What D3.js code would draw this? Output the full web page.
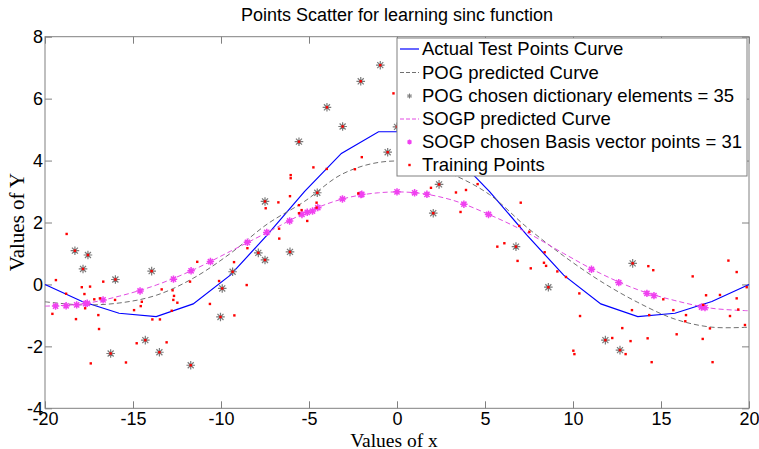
<!DOCTYPE html>
<html><head><meta charset="utf-8">
<script src="https://cdn.jsdelivr.net/npm/d3@7"></script>
<style>
html,body{margin:0;padding:0;background:#fff;}
svg{display:block;}
text{font-family:"Liberation Sans",Arial,sans-serif;}
</style></head>
<body>
<svg id="chart" width="759" height="449"></svg>
<script>
// ---- data ----
const titleText = "Points Scatter for learning sinc function";
const xLabel = "Values of x";
const yLabel = "Values of Y";
const xTicks = [-20,-15,-10,-5,0,5,10,15,20];
const yTicks = [-4,-2,0,2,4,6,8];
const legendLabels = ["Actual Test Points Curve","POG predicted Curve","POG chosen dictionary elements = 35","SOGP predicted Curve","SOGP chosen Basis vector points = 31","Training Points"];

const gridX = [-20,-17.89,-15.79,-13.68,-11.58,-9.47,-7.37,-5.26,-3.16,-1.05,1.05,3.16,5.26,7.37,9.47,11.58,13.68,15.79,17.89,20];
const actualY = [0,-0.55,-0.93,-1.04,-0.63,0.30,1.6,3.0,4.23,4.93,4.93,4.23,3.0,1.6,0.3,-0.63,-1.04,-0.93,-0.55,0];
const pogY = [-0.56,-0.66,-0.6,-0.35,0.2,1.0,1.95,2.68,3.55,3.94,3.94,3.55,2.9,1.85,0.92,0.1,-0.58,-1.12,-1.38,-1.38];
const sogpY = [-0.70,-0.63,-0.38,-0.02,0.47,1.07,1.68,2.3,2.75,2.96,2.96,2.72,2.25,1.68,1.0,0.35,-0.17,-0.52,-0.77,-0.85];

const pogChosenX = [-18.3,-17.56,-17.84,-16.0,-13.94,-14.3,-16.27,-13.5,-11.72,-10.03,-9.93,-9.34,-7.88,-7.5,-7.5,-6.08,-4.53,-5.57,-3.98,-3.09,-2.06,-0.95,-0.53,0,2.39,2.06,6.76,8.6,13.39,11.84,12.67,1.3,2.9,4.2,1.7];
const pogChosenY = [1.09,0.95,0.50,0.16,0.43,-1.80,-2.23,-2.19,-2.61,-1.05,-0.13,0.41,1.02,0.79,2.68,1.05,2.96,4.61,5.72,5.10,6.56,7.08,4.27,5.09,3.23,2.30,1.22,-0.09,0.68,-1.80,-2.12,6.3,4.6,5.6,7.4];

const sogpChosenX = [-19.4,-18.8,-18.2,-17.7,-17.6,-16.7,-14.6,-12.7,-11.7,-10.6,-8.5,-7.4,-6.1,-5.4,-5.1,-4.8,-4.5,-3.1,-2.05,-2.0,0,1.0,1.7,3.8,5.2,11.05,12.6,14.2,14.6,17.3,17.5];
const sogpChosenY = [-0.70,-0.69,-0.66,-0.62,-0.61,-0.50,-0.21,0.17,0.44,0.74,1.36,1.68,2.05,2.26,2.33,2.37,2.48,2.76,2.90,2.91,2.99,2.96,2.91,2.59,2.26,0.49,0.06,-0.29,-0.36,-0.73,-0.75];

const trainX = [-19.58,-19.38,-18.8,-18.77,-18.3,-18.24,-17.91,-17.84,-17.76,-17.72,-17.56,-17.44,-17.4,-17.2,-16.97,-16.93,-16.88,-16.69,-16.27,-16.02,-16.0,-15.4,-14.94,-14.79,-14.56,-14.5,-14.3,-13.94,-13.9,-13.5,-13.47,-13.37,-13.09,-12.8,-12.75,-12.67,-12.71,-12.48,-11.76,-11.72,-11.35,-10.63,-10.11,-10.03,-9.93,-9.34,-9.26,-9.24,-8.54,-8.5,-7.88,-7.5,-7.5,-7.46,-6.74,-6.7,-6.69,-6.08,-6.08,-6.04,-6.04,-5.57,-5.57,-5.57,-5.42,-5.1,-4.75,-4.57,-4.53,-4.57,-3.99,-3.98,-3.09,-2.39,-2.2,-2.06,-2.0,-0.95,-0.53,-0.2,0,1.93,2.06,2.39,3.35,3.61,3.92,4.58,5.7,6.1,6.76,6.85,6.95,7.03,7.52,7.6,8.35,8.39,8.47,8.6,9.11,9.6,10.02,10.08,10.36,10.4,11.84,12.23,12.67,12.8,12.99,13.27,13.35,13.39,14.24,14.28,14.33,14.47,14.56,15.13,15.7,15.89,16.38,16.42,16.8,17.37,17.4,17.56,17.78,17.93,18.35,18.83,18.92,19.3,19.3,19.39,19.77,19.87,1.3,2.9,4.2,1.7];
const trainY = [-0.95,0.14,-0.3,1.63,1.09,-1.12,-0.09,0.50,-0.31,-0.77,0.95,-0.07,-2.55,-0.48,-0.99,-1.44,-0.45,0.09,-2.23,-0.5,0.16,-2.52,-0.83,-1.9,-0.7,-0.56,-1.80,0.43,-1.13,-2.19,-1.13,-0.16,-1.87,-0.85,-0.19,-0.37,-0.5,-0.59,0.09,-2.61,0.73,-0.63,0.11,-1.05,-0.13,0.41,0.72,-1.0,-0.02,1.17,1.02,0.79,2.68,2.46,2.65,1.8,1.48,1.05,2.85,3.53,3.43,4.61,2.56,2.3,2.4,2.05,3.78,2.64,2.96,2.48,3.73,5.72,5.10,3.72,2.94,6.56,4.11,7.08,4.27,6.17,5.09,3.12,2.30,3.23,2.97,2.34,3.05,3.24,1.22,1.33,1.22,0.76,1.89,2.64,1.7,0.52,0.7,1.04,0.6,-0.09,0.42,0.24,-2.14,-2.25,-0.29,-1.02,-1.80,-1.73,-2.12,-1.41,-2.25,-1.83,-0.83,0.68,-1.74,0.59,-0.99,-2.51,0.46,-0.48,-0.83,-1.61,-1.19,-0.99,0.26,-1.76,-0.66,-0.35,-1.42,-2.51,-0.34,0.77,-1.02,0.4,-0.45,-0.81,-1.31,-0.09,6.3,4.6,5.6,7.4];

// ---- chart ----
const svg = d3.select("#chart");
const L = 45, R = 749, T = 36.7, B = 408.3;
const x = d3.scaleLinear().domain([-20,20]).range([L,R]);
const y = d3.scaleLinear().domain([-4,8]).range([B,T]);
const axisCol = "#808080";

// axes box
svg.append("rect").attr("x",L).attr("y",T).attr("width",R-L).attr("height",B-T)
  .attr("fill","none").attr("stroke",axisCol).attr("stroke-width",1);

function styleAxis(g){
  g.select(".domain").remove();
  g.selectAll(".tick line").attr("stroke",axisCol);
  g.selectAll(".tick text").attr("fill","#000").style("font-size","18px")
   .style("font-family","'Liberation Sans',Arial,sans-serif");
}
svg.append("g").attr("transform",`translate(0,${B})`)
  .call(d3.axisBottom(x).tickValues(xTicks).tickSize(-7).tickPadding(4).tickFormat(d3.format("d")))
  .call(styleAxis);
svg.append("g").attr("transform",`translate(0,${T})`)
  .call(d3.axisTop(x).tickValues(xTicks).tickSize(-7).tickFormat(""))
  .call(styleAxis);
svg.append("g").attr("transform",`translate(${L},0)`)
  .call(d3.axisLeft(y).tickValues(yTicks).tickSize(-7).tickPadding(2).tickFormat(d3.format("d")))
  .call(styleAxis);
svg.append("g").attr("transform",`translate(${R},0)`)
  .call(d3.axisRight(y).tickValues(yTicks).tickSize(-7).tickFormat(""))
  .call(styleAxis);
svg.selectAll(".tick text").text(function(){return this.textContent.replace("\u2212","-");});

// title & labels
svg.append("text").attr("x",(L+R)/2).attr("y",21).attr("text-anchor","middle")
  .style("font-size","18px").text(titleText);
svg.append("text").attr("x",(L+R)/2 - 3).attr("y",446.5).attr("text-anchor","middle")
  .style("font-family","'Liberation Serif','Times New Roman',serif").style("font-size","19.5px").text(xLabel);
svg.append("text").attr("transform","translate(24,222) rotate(-90)").attr("text-anchor","middle")
  .style("font-family","'Liberation Serif','Times New Roman',serif").style("font-size","21px").text(yLabel);

const plot = svg.append("g");
const line = d3.line().x(d=>x(d[0])).y(d=>y(d[1]));
const smooth = d3.line().x(d=>x(d[0])).y(d=>y(d[1])).curve(d3.curveCatmullRom);

plot.append("path").datum(gridX.map((v,i)=>[v,actualY[i]])).attr("d",line)
  .attr("fill","none").attr("stroke","#0000ff").attr("stroke-width",1.2);
plot.append("path").datum(gridX.map((v,i)=>[v,pogY[i]])).attr("d",smooth)
  .attr("fill","none").attr("stroke","#707070").attr("stroke-width",1).attr("stroke-dasharray","5,3");

function star(g, cx, cy, r, col, w){
  const d = `M${cx-r},${cy}L${cx+r},${cy}M${cx},${cy-r}L${cx},${cy+r}` +
    `M${cx-r*0.7},${cy-r*0.7}L${cx+r*0.7},${cy+r*0.7}M${cx-r*0.7},${cy+r*0.7}L${cx+r*0.7},${cy-r*0.7}`;
  g.append("path").attr("d",d).attr("stroke",col).attr("stroke-width",w).attr("fill","none");
}
pogChosenX.forEach((v,i)=>star(plot, x(v), y(pogChosenY[i]), 4.3, "#7a7a7a", 1.2));

plot.append("path").datum(gridX.map((v,i)=>[v,sogpY[i]])).attr("d",smooth)
  .attr("fill","none").attr("stroke","#e24be2").attr("stroke-width",1).attr("stroke-dasharray","5,3");
sogpChosenX.forEach((v,i)=>star(plot, x(v), y(sogpChosenY[i]), 3.7, "#f040f0", 1.5));

plot.selectAll("rect.tp").data(trainX.map((v,i)=>[v,trainY[i]])).enter().append("rect")
  .attr("class","tp").attr("x",d=>x(d[0])-1.2).attr("y",d=>y(d[1])-1.2)
  .attr("width",2.4).attr("height",2.4).attr("fill","#ff0000");

// legend
const lg = svg.append("g");
lg.append("rect").attr("x",397).attr("y",38).attr("width",350).attr("height",138)
  .attr("fill","#fff").attr("stroke",axisCol).attr("stroke-width",1);
const rowY = [49,72.5,96,119,142,165];
const lx0 = 400, lx1 = 419, tx = 422;
legendLabels.forEach((t,i)=>{
  const yy = rowY[i];
  if(i===0) lg.append("line").attr("x1",lx0).attr("x2",lx1).attr("y1",yy).attr("y2",yy).attr("stroke","#0000ff").attr("stroke-width",1.2);
  if(i===1) lg.append("line").attr("x1",lx0).attr("x2",lx1).attr("y1",yy).attr("y2",yy).attr("stroke","#707070").attr("stroke-dasharray","4,2");
  if(i===2) star(lg,(lx0+lx1)/2,yy,2.5,"#7a7a7a",1);
  if(i===3) lg.append("line").attr("x1",lx0).attr("x2",lx1).attr("y1",yy).attr("y2",yy).attr("stroke","#e24be2").attr("stroke-dasharray","4,2");
  if(i===4) star(lg,(lx0+lx1)/2,yy,2.5,"#f040f0",1.2);
  if(i===5) lg.append("rect").attr("x",(lx0+lx1)/2-1.2).attr("y",yy-1.2).attr("width",2.4).attr("height",2.4).attr("fill","#ff0000");
  lg.append("text").attr("x",tx).attr("y",yy).attr("dy","0.35em").style("font-size","18.5px").text(t);
});
</script>
</body></html>
